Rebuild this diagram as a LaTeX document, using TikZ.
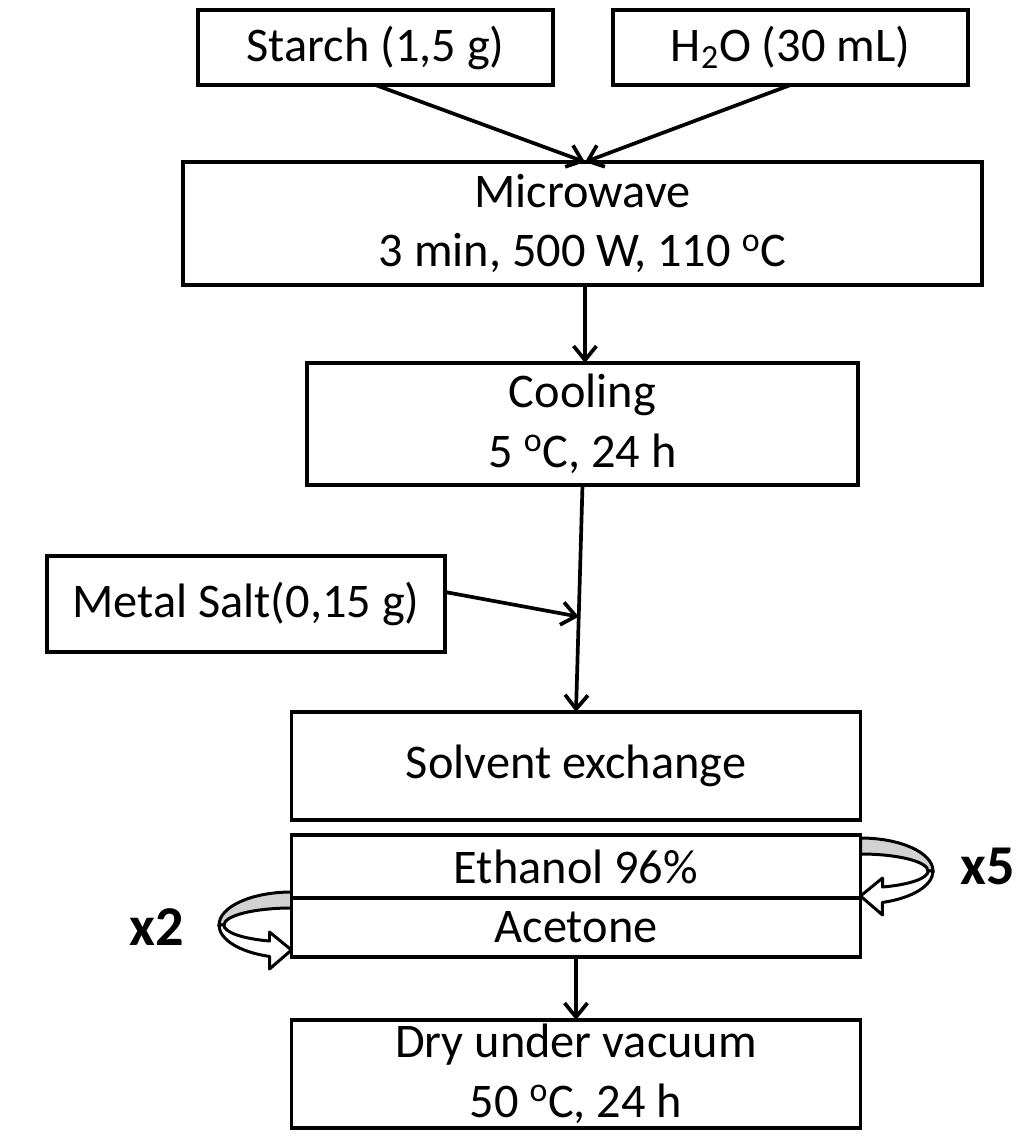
\documentclass[tikz,border=0pt]{standalone}
\usepackage{fontspec}
\setmainfont{Carlito}
\usepackage{tikz}
\usetikzlibrary{positioning, arrows.meta, calc}

\begin{document}
\begin{tikzpicture}[
    >={Straight Barb[length=8pt, width=13pt]},
    box/.style={rectangle, draw, line width=2.2pt, align=center, inner sep=0pt, outer sep=0pt,
        font={\fontsize{27.5}{34}\selectfont}},
    stackbox/.style={box, minimum width=11.38cm},
    tag/.style={inner sep=0pt, font={\fontsize{32}{38}\selectfont\bfseries}},
    arrow/.style={->, line width=2.1pt},
    ribbon/.pic={
        % back of the loop
        \draw[line width=1.7pt, fill=gray!35] (0,0.66) arc[start angle=90, end angle=0, x radius=1.45, y radius=0.66]
            -- (1.35,0) arc[start angle=0, end angle=90, x radius=1.35, y radius=0.34] -- cycle;
        % front of the loop with its head
        \draw[line width=1.7pt, fill=white, line join=round] (1.45,0)
            arc[start angle=0, end angle=-72.5, x radius=1.45, y radius=0.66]
            -- (0.44,-0.88) -- (0,-0.5) -- (0.44,-0.14) -- (0.44,-0.32)
            arc[start angle=-71.2, end angle=0, x radius=1.35, y radius=0.34] -- cycle;
    }
]
\useasboundingbox (0,0) rectangle (20.48,-22.72);

% Inputs
\node[box, minimum width=7.1cm, minimum height=1.5cm] (starch) at (7.51,-0.95) {Starch (1,5 g)};
\node[box, minimum width=7.1cm, minimum height=1.5cm, right=1.2cm of starch] (water) {H\textsubscript{2}O (30 mL)};

% Microwave step
\node[box, minimum width=15.98cm, minimum height=2.46cm] (micro) at (11.65,-4.47) {
    Microwave\\
    3 min, 500 W, 110 \textsuperscript{o}C
};

% Cooling step
\node[box, minimum width=11.02cm, minimum height=2.44cm, below=1.56cm of micro] (cooling) {
    Cooling\\
    5 \textsuperscript{o}C, 24 h
};

% Metal salt
\node[box, minimum width=7.96cm, minimum height=1.92cm] (metal) at (4.92,-12.08) {Metal Salt(0,15 g)};

% Solvent exchange
\node[stackbox, minimum height=2.16cm] (solvent) at (11.52,-15.32) {Solvent exchange};
\node[stackbox, minimum height=1.26cm, below=0.3cm of solvent] (ethanol) {Ethanol 96\%};
\node[stackbox, minimum height=1.18cm, below=0pt of ethanol] (acetone) {Acetone};

% Drying
\node[box, minimum width=11.38cm, minimum height=2.16cm, below=1.26cm of acetone] (dry) {
    Dry under vacuum\\
    50 \textsuperscript{o}C, 24 h
};

% Repeats
\pic at ($(ethanol.east)+(0,-0.09)$) {ribbon};
\pic[xscale=-1] at ($(acetone.west)+(0,0.05)$) {ribbon};
\node[tag, right=2.0cm of ethanol] (five) {x5};
\node[tag, left=2.15cm of acetone] (two) {x2};

% Arrows
\coordinate (join) at ($(cooling.south)!0.58!(solvent.north)$);
\draw[arrow] (starch.south) -- ($(micro.north)+(0.05,0)$);
\draw[arrow] (water.south) -- ($(micro.north)+(0.05,0)$);
\draw[arrow] ($(micro.south)+(0.05,0)$) -- ($(cooling.north)+(0.05,0)$);
\draw[arrow] (cooling.south) -- (solvent.north);
\draw[arrow] ($(metal.east)+(0,0.24)$) -- (join);
\draw[arrow] (acetone.south) -- (dry.north);

\end{tikzpicture}
\end{document}
